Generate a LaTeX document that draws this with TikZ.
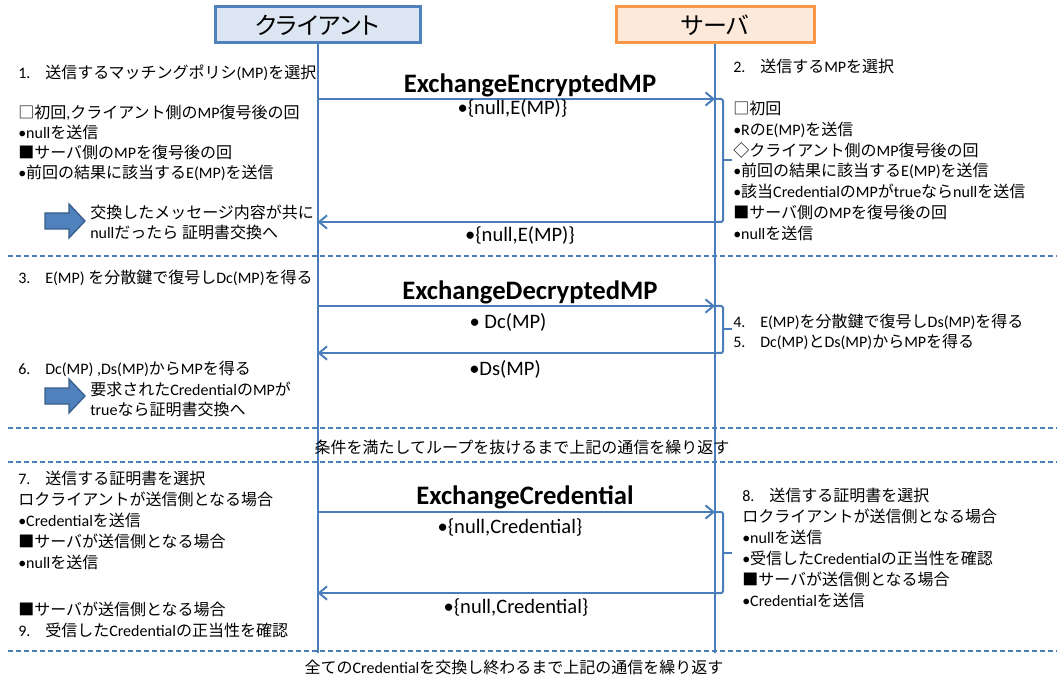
\documentclass[tikz,border=0pt]{standalone}
\usepackage{fontspec}
\setmainfont{Carlito}
\newfontfamily\cjkfont{Noto Sans CJK JP}
\newfontfamily\cjkp[RawFeature=+palt]{Noto Sans CJK JP}
\usetikzlibrary{arrows.meta}
% automatic switch to the CJK font for Japanese characters
\XeTeXinterchartokenstate=1
\newXeTeXintercharclass\CJKcls
\newcount\cjkc
\def\cjkrange#1#2{\cjkc=#1\relax\loop\XeTeXcharclass\cjkc=\CJKcls\relax\ifnum\cjkc<#2\relax\advance\cjkc by 1\relax\repeat}
\cjkrange{"3000}{"30FF}
\cjkrange{"4E00}{"9FFF}
\cjkrange{"FF00}{"FFEF}
\cjkrange{"25A0}{"25FF}
\XeTeXinterchartoks 0 \CJKcls = {\cjkfont}
\XeTeXinterchartoks 4095 \CJKcls = {\cjkfont}
\XeTeXinterchartoks \CJKcls 0 = {\rmfamily}
\XeTeXinterchartoks \CJKcls 4095 = {\rmfamily}
\definecolor{lineblue}{HTML}{4A7EBB}
\definecolor{cfill}{HTML}{DCE6F2}
\definecolor{cdraw}{HTML}{4F81BD}
\definecolor{sfill}{HTML}{FDE9D9}
\definecolor{sdraw}{HTML}{F79646}
\definecolor{afill}{HTML}{4F81BD}
\definecolor{adraw}{HTML}{385D8A}
\newcommand\itemno[1]{\makebox[20.25pt][l]{#1}}
\newcommand\hdrfont{\XeTeXinterchartokenstate=0\relax\cjkp\fontsize{18}{20}\selectfont}
\newcommand\lines[1]{\begin{tabular}[t]{@{}l@{}}#1\end{tabular}}
\begin{document}
\begin{tikzpicture}[x=0.75pt,y=-0.75pt,
  ln/.style={draw=lineblue, line width=1.5pt},
  msg/.style={ln, -{Straight Barb[length=6pt,width=10pt]}},
  brk/.style={ln, rounded corners=1.5pt},
  sep/.style={draw=lineblue, line width=1.2pt, dash pattern=on 4pt off 2pt},
  txt/.style={anchor=base west, inner sep=0pt, font=\fontsize{12}{15}\selectfont},
  txtb/.style={txt, font=\fontsize{12}{15.75}\selectfont},
  txtr/.style={txt, font=\fontsize{12}{15.6}\selectfont},
  mid/.style={anchor=base, inner sep=0pt, font=\fontsize{15.4}{18}\selectfont},
  foot/.style={anchor=base, inner sep=0pt, font=\fontsize{12}{15}\selectfont},
  lbl/.style={anchor=base, inner sep=0pt, font=\fontsize{20}{24}\selectfont\bfseries},
  hdr/.style={minimum height=27pt, line width=2.25pt, inner sep=0pt, font=\hdrfont},
  barrow/.style={fill=afill, draw=adraw, line width=1pt}]
\useasboundingbox (0,0) rectangle (1057,677);

% headers and lifelines
\node[hdr, fill=cfill, draw=cdraw, minimum width=153.75pt] (cl) at (317.5,25) {クライアント};
\node[hdr, fill=sfill, draw=sdraw, minimum width=148.5pt] (sv) at (715,25) {サーバ};
\coordinate (clend) at (317.5,653);
\coordinate (svend) at (715,653);
\draw[ln] (cl.south) -- (clend);
\draw[ln] (sv.south) -- (svend);

% separators
\coordinate (s1a) at (8,256);  \coordinate (s1b) at (1057,256);
\coordinate (s2a) at (8,428);  \coordinate (s2b) at (1057,428);
\coordinate (s3a) at (8,462);  \coordinate (s3b) at (1057,462);
\coordinate (s4a) at (8,651);  \coordinate (s4b) at (1057,651);
\draw[sep] (s1a) -- (s1b);
\draw[sep] (s2a) -- (s2b);
\draw[sep] (s3a) -- (s3b);
\draw[sep] (s4a) -- (s4b);

% message 1
\coordinate (c1) at (317.5,99);  \coordinate (v1) at (715,99);
\coordinate (c2) at (317.5,222); \coordinate (v2) at (715,222);
\draw[msg] (c1) -- (v1);
\draw[msg] (v2) -- (c2);
\draw[brk] (v1) -- (723,99) -- (723,222) -- (v2);
\draw[ln] (723,160.5) -- (732,160.5);
\node[lbl] (m1) at (530,93) {ExchangeEncryptedMP};
\node[mid] (m1a) at (512.5,115) {•\{null,E(MP)\}};
\node[mid] (m1b) at (520,242) {•\{null,E(MP)\}};

% message 2
\coordinate (c3) at (317.5,306); \coordinate (v3) at (715,306);
\coordinate (c4) at (317.5,353); \coordinate (v4) at (715,353);
\draw[msg] (c3) -- (v3);
\draw[msg] (v4) -- (c4);
\draw[brk] (v3) -- (723,306) -- (723,353) -- (v4);
\draw[ln] (723,329.5) -- (732,329.5);
\node[lbl] (m2) at (530,300) {ExchangeDecryptedMP};
\node[mid] (m2a) at (508,329) {• Dc(MP)};
\node[mid] (m2b) at (505,375) {•Ds(MP)};

% message 3
\coordinate (c5) at (317.5,512); \coordinate (v5) at (715,512);
\coordinate (c6) at (317.5,593); \coordinate (v6) at (715,593);
\draw[msg] (c5) -- (v5);
\draw[msg] (v6) -- (c6);
\draw[brk] (v5) -- (723,512) -- (723,593) -- (v6);
\draw[ln] (723,552.5) -- (732,552.5);
\node[lbl] (m3) at (525,504) {ExchangeCredential};
\node[mid] (m3a) at (510,533) {•\{null,Credential\}};
\node[mid] (m3b) at (516,613) {•\{null,Credential\}};

% block arrows
\draw[barrow] (45,213) -- (69,213) -- (69,204) -- (85,221) -- (69,238) -- (69,229) -- (45,229) -- cycle;
\draw[barrow] (45,388) -- (69,388) -- (69,379) -- (85,396) -- (69,413) -- (69,404) -- (45,404) -- cycle;

% client side texts
\node[txt] (t1) at (18,79) {\lines{\itemno{1.}送信するマッチングポリシ(MP)を選択\\[15pt]
□初回,クライアント側のMP復号後の回\\
•nullを送信\\
■サーバ側のMPを復号後の回\\
•前回の結果に該当するE(MP)を送信}};
\node[txt] (ta1) at (90,219) {\lines{交換したメッセージ内容が共に\\nullだったら 証明書交換へ}};
\node[txt] (t3) at (18,284) {\itemno{3.}E(MP) を分散鍵で復号しDc(MP)を得る};
\node[txt] (t6) at (18,374) {\itemno{6.}Dc(MP) ,Ds(MP)からMPを得る};
\node[txt] (ta2) at (90,396) {\lines{要求されたCredentialのMPが\\trueなら証明書交換へ}};
\node[txtb] (t7) at (18,484) {\lines{\itemno{7.}送信する証明書を選択\\
ロクライアントが送信側となる場合\\
•Credentialを送信\\
■サーバが送信側となる場合\\
•nullを送信}};
\node[txtb] (t9) at (18,615) {\lines{■サーバが送信側となる場合\\
\itemno{9.}受信したCredentialの正当性を確認}};

% server side texts
\node[txtr] (t2) at (733,73) {\lines{\itemno{2.}送信するMPを選択\\[15.6pt]
□初回\\
•RのE(MP)を送信\\
◇クライアント側のMP復号後の回\\
•前回の結果に該当するE(MP)を送信\\
•該当CredentialのMPがtrueならnullを送信\\
■サーバ側のMPを復号後の回\\
•nullを送信}};
\node[txt] (t4) at (733,328) {\lines{\itemno{4.}E(MP)を分散鍵で復号しDs(MP)を得る\\
\itemno{5.}Dc(MP)とDs(MP)からMPを得る}};
\node[txtb] (t8) at (742,501) {\lines{\itemno{8.}送信する証明書を選択\\
ロクライアントが送信側となる場合\\
•nullを送信\\
•受信したCredentialの正当性を確認\\
■サーバが送信側となる場合\\
•Credentialを送信}};

% footers
\node[foot] (f1) at (522,453) {条件を満たしてループを抜けるまで上記の通信を繰り返す};
\node[foot] (f2) at (514,673) {全てのCredentialを交換し終わるまで上記の通信を繰り返す};
\end{tikzpicture}
\end{document}
